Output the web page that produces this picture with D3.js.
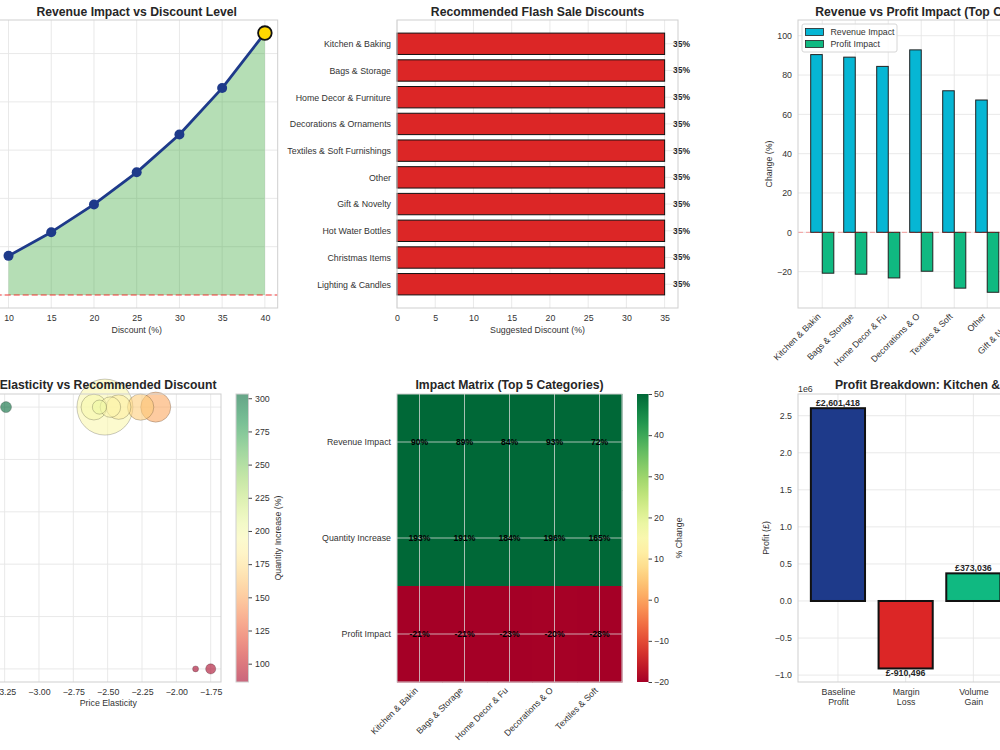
<!DOCTYPE html>
<html>
<head>
<meta charset="utf-8">
<script src="https://cdn.jsdelivr.net/npm/d3@7"></script>
<style>
  body { margin: 0; background: #fff; }
  svg text { font-family: "Liberation Sans", Arial, sans-serif; }
</style>
</head>
<body>
<div id="chart"></div>
<script>
// ---- data ----

// revenue impact curve
const discountLevels = [10, 15, 20, 25, 30, 35, 40];
const avgRevenueImpact = [16.2, 26.0, 37.5, 50.8, 66.5, 85.7, 108.5];

// categories and suggested discounts
const categories = ["Kitchen & Baking", "Bags & Storage", "Home Decor & Furniture",
  "Decorations & Ornaments", "Textiles & Soft Furnishings", "Other", "Gift & Novelty",
  "Hot Water Bottles", "Christmas Items", "Lighting & Candles"];
const suggestedDiscount = [35, 35, 35, 35, 35, 35, 35, 35, 35, 35];

// top 8 categories: revenue vs profit impact (%)
const revenueImpact = [90.4, 89.1, 84.4, 92.8, 72.0, 67.3, 60.5, 55.2];
const profitImpact = [-20.8, -21.3, -23.2, -19.8, -28.4, -30.5, -27.0, -24.5];

// impact matrix (top 5)
const matrixRows = ["Revenue Impact", "Quantity Increase", "Profit Impact"];
const quantityIncrease = [193, 191, 184, 196, 165];

// elasticity scatter (same order as categories)
const elasticity = [-2.52, -2.48, -2.42, -2.60, -2.26, -2.15, -2.56, -1.75, -1.86, -3.24];
const recDiscount = [35, 35, 35, 35, 35, 35, 35, 10, 10, 35];
const scatterQty = [193, 191, 184, 196, 165, 150, 205, 88, 86, 303];
const baselineRevenue = [5200, 700, 1000, 1100, 1150, 1500, 330, 170, 60, 200];

// profit breakdown for the top category
const breakdownLabels = ["Baseline\nProfit", "Margin\nLoss", "Volume\nGain", "Net\nProfit"];
const breakdownValues = [2601418, -910496, 373036, 2063958];

// ---- setup ----

const width = 1000;
const height = 750;
const gridColor = "#e6e6e6";
const frameColor = "#cfcfcf";
const textColor = "#333333";

const svg = d3.select("#chart")
  .append("svg")
  .attr("width", width)
  .attr("height", height)
  .style("background", "#ffffff");

const shortName = s => s.slice(0, 15);

function addTitle(b, txt, y, cx) {
  svg.append("text")
    .attr("x", cx !== undefined ? cx : (b.x0 + b.x1) / 2)
    .attr("y", y)
    .attr("text-anchor", "middle")
    .style("font-size", "12.2px")
    .style("font-weight", "bold")
    .style("fill", "#262626")
    .text(txt);
}

function addGrid(b, xs, xVals, ys, yVals) {
  const g = svg.append("g");
  g.selectAll("line.gx").data(xVals).join("line")
    .attr("x1", d => xs(d)).attr("x2", d => xs(d))
    .attr("y1", b.y0).attr("y2", b.y1)
    .attr("stroke", gridColor).attr("stroke-width", 0.9);
  g.selectAll("line.gy").data(yVals).join("line")
    .attr("y1", d => ys(d)).attr("y2", d => ys(d))
    .attr("x1", b.x0).attr("x2", b.x1)
    .attr("stroke", gridColor).attr("stroke-width", 0.9);
}

function addFrame(b) {
  svg.append("rect")
    .attr("x", b.x0).attr("y", b.y0)
    .attr("width", b.x1 - b.x0).attr("height", b.y1 - b.y0)
    .attr("fill", "none")
    .attr("stroke", frameColor)
    .attr("stroke-width", 1);
}

function styleAxis(g) {
  g.select(".domain").remove();
  g.attr("font-family", '"Liberation Sans", Arial, sans-serif')
    .attr("font-size", 8.8);
  g.selectAll(".tick text").attr("fill", textColor);
  return g;
}

function bottomAxis(b, scale, vals, fmt) {
  return svg.append("g")
    .attr("transform", "translate(0," + b.y1 + ")")
    .call(d3.axisBottom(scale).tickValues(vals).tickFormat(fmt).tickSize(0).tickPadding(7))
    .call(styleAxis);
}

function leftAxis(b, scale, vals, fmt) {
  return svg.append("g")
    .attr("transform", "translate(" + b.x0 + ",0)")
    .call(d3.axisLeft(scale).tickValues(vals).tickFormat(fmt).tickSize(0).tickPadding(6))
    .call(styleAxis);
}

function rotateLabels(g) {
  g.selectAll(".tick text")
    .attr("y", 0).attr("dy", 0)
    .attr("text-anchor", "end")
    .attr("transform", "translate(-1.5,9) rotate(-45)");
}

function axisLabel(x, y, txt, rotate) {
  svg.append("text")
    .attr("transform", "translate(" + x + "," + y + ")" + (rotate ? " rotate(-90)" : ""))
    .attr("text-anchor", "middle")
    .style("font-size", "8.8px")
    .style("fill", textColor)
    .text(txt);
}

// ---- panel 1: revenue impact vs discount level ----
(function () {
  const b = { x0: -4.3, x1: 277.7, y0: 20, y1: 308 };
  const data = discountLevels.map((d, i) => ({ x: d, y: avgRevenueImpact[i] }));

  const xScale = d3.scaleLinear().domain([8.5, 41.5]).range([b.x0, b.x1]);
  const yScale = d3.scaleLinear().domain([-5.4, 113.9]).range([b.y1, b.y0]);

  addGrid(b, xScale, discountLevels, yScale, [0, 20, 40, 60, 80, 100]);

  svg.append("path")
    .attr("d", d3.area().x(d => xScale(d.x)).y0(yScale(0)).y1(d => yScale(d.y))(data))
    .attr("fill", "#2ca02c")
    .attr("fill-opacity", 0.35);

  svg.append("line")
    .attr("x1", b.x0).attr("x2", b.x1)
    .attr("y1", yScale(0)).attr("y2", yScale(0))
    .attr("stroke", "#ff0000").attr("stroke-opacity", 0.5)
    .attr("stroke-width", 1.5).attr("stroke-dasharray", "6,3");

  svg.append("path")
    .attr("d", d3.line().x(d => xScale(d.x)).y(d => yScale(d.y))(data))
    .attr("fill", "none")
    .attr("stroke", "#1e3a8a")
    .attr("stroke-width", 2.8)
    .attr("stroke-linejoin", "round");

  svg.selectAll("circle.p1").data(data.slice(0, -1)).join("circle")
    .attr("class", "p1")
    .attr("cx", d => xScale(d.x)).attr("cy", d => yScale(d.y))
    .attr("r", 5).attr("fill", "#1e3a8a");

  const last = data[data.length - 1];
  svg.append("circle")
    .attr("cx", xScale(last.x)).attr("cy", yScale(last.y))
    .attr("r", 6.8).attr("fill", "#ffd700")
    .attr("stroke", "#111").attr("stroke-width", 1.8);

  addFrame(b);
  bottomAxis(b, xScale, discountLevels, d3.format("d"));
  axisLabel((b.x0 + b.x1) / 2, 333, "Discount (%)");
  addTitle(b, "Revenue Impact vs Discount Level", 15.5);
})();

// ---- panel 2: recommended flash sale discounts ----
(function () {
  const b = { x0: 397, x1: 678, y0: 20, y1: 308 };
  const idx = categories.map((d, i) => i);

  const xScale = d3.scaleLinear().domain([0, 36.75]).range([b.x0, b.x1]);
  const yScale = d3.scaleLinear().domain([-0.89, 9.89]).range([b.y0, b.y1]);
  const xTicks = [0, 5, 10, 15, 20, 25, 30, 35];

  addGrid(b, xScale, xTicks, yScale, idx);

  svg.selectAll("rect.p2").data(idx).join("rect")
    .attr("class", "p2")
    .attr("x", xScale(0))
    .attr("y", i => yScale(i - 0.4))
    .attr("width", i => xScale(suggestedDiscount[i]) - xScale(0))
    .attr("height", yScale(0.8) - yScale(0))
    .attr("fill", "#dc2626")
    .attr("stroke", "#111")
    .attr("stroke-width", 1);

  svg.selectAll("text.p2v").data(idx).join("text")
    .attr("class", "p2v")
    .attr("x", i => xScale(suggestedDiscount[i] + 1.1))
    .attr("y", i => yScale(i))
    .attr("dy", "0.35em")
    .style("font-size", "8.5px")
    .style("font-weight", "bold")
    .style("fill", "#262626")
    .text(i => suggestedDiscount[i] + "%");

  addFrame(b);
  bottomAxis(b, xScale, xTicks, d3.format("d"));
  leftAxis(b, yScale, idx, i => categories[i]);
  axisLabel((b.x0 + b.x1) / 2, 333, "Suggested Discount (%)");
  addTitle(b, "Recommended Flash Sale Discounts", 15.5);
})();

// ---- panel 3: revenue vs profit impact ----
(function () {
  const b = { x0: 798, x1: 1077.5, y0: 20, y1: 308 };
  const n = revenueImpact.length;
  const idx = d3.range(n);
  const w = 0.35;

  const xScale = d3.scaleLinear().domain([-0.735, n - 1 + 0.735]).range([b.x0, b.x1]);
  const yScale = d3.scaleLinear().domain([-38.5, 108]).range([b.y1, b.y0]);
  const yTicks = [-20, 0, 20, 40, 60, 80, 100];

  addGrid(b, xScale, idx, yScale, yTicks);

  svg.selectAll("rect.rev").data(idx).join("rect")
    .attr("class", "rev")
    .attr("x", i => xScale(i - w))
    .attr("width", xScale(w) - xScale(0))
    .attr("y", i => yScale(revenueImpact[i]))
    .attr("height", i => yScale(0) - yScale(revenueImpact[i]))
    .attr("fill", "#06b6d4").attr("stroke", "#222").attr("stroke-width", 1);

  svg.selectAll("rect.prof").data(idx).join("rect")
    .attr("class", "prof")
    .attr("x", i => xScale(i))
    .attr("width", xScale(w) - xScale(0))
    .attr("y", yScale(0))
    .attr("height", i => yScale(profitImpact[i]) - yScale(0))
    .attr("fill", "#10b981").attr("stroke", "#222").attr("stroke-width", 1);

  svg.append("line")
    .attr("x1", b.x0).attr("x2", b.x1)
    .attr("y1", yScale(0)).attr("y2", yScale(0))
    .attr("stroke", "#ff0000").attr("stroke-opacity", 0.35)
    .attr("stroke-width", 1).attr("stroke-dasharray", "5,3");

  // legend
  const lg = svg.append("g").attr("transform", "translate(802,24)");
  lg.append("rect").attr("width", 95).attr("height", 28).attr("rx", 2)
    .attr("fill", "#fff").attr("fill-opacity", 0.85)
    .attr("stroke", "#d6d6d6");
  [["Revenue Impact", "#06b6d4"], ["Profit Impact", "#10b981"]].forEach((e, k) => {
    lg.append("rect").attr("x", 3.5).attr("y", 4.5 + k * 12).attr("width", 18).attr("height", 7)
      .attr("fill", e[1]).attr("stroke", "#222").attr("stroke-width", 0.8);
    lg.append("text").attr("x", 28.5).attr("y", 8 + k * 12).attr("dy", "0.35em")
      .style("font-size", "8.8px").style("fill", textColor).text(e[0]);
  });

  addFrame(b);
  bottomAxis(b, xScale, idx, i => shortName(categories[i])).call(rotateLabels);
  leftAxis(b, yScale, yTicks, d3.format("d"));
  axisLabel(772, (b.y0 + b.y1) / 2, "Change (%)", true);
  addTitle(b, "Revenue vs Profit Impact (Top Categories)", 15.5);
})();

// ---- panel 4: price elasticity vs recommended discount ----
(function () {
  const b = { x0: -4.3, x1: 221, y0: 394, y1: 682 };
  const cb = { x0: 236, x1: 248.5, y0: 394, y1: 682 };

  const xScale = d3.scaleLinear().domain([-3.315, -1.675]).range([b.x0, b.x1]);
  const yScale = d3.scaleLinear().domain([8.75, 36.25]).range([b.y1, b.y0]);
  const rScale = d3.scaleSqrt().domain([0, d3.max(baselineRevenue)]).range([0, 28]);
  const color = d3.scaleSequential(d3.interpolateRdYlGn).domain([86.2, 303.2]);

  const xTicks = [-3.25, -3.0, -2.75, -2.5, -2.25, -2.0, -1.75];
  const yTicks = [10, 15, 20, 25, 30, 35];
  addGrid(b, xScale, xTicks, yScale, yTicks);

  const pts = categories.map((c, i) => ({
    e: elasticity[i], d: recDiscount[i], q: scatterQty[i], r: rScale(baselineRevenue[i])
  })).sort((a, b) => b.r - a.r);

  svg.selectAll("circle.p4").data(pts).join("circle")
    .attr("class", "p4")
    .attr("cx", d => xScale(d.e)).attr("cy", d => yScale(d.d))
    .attr("r", d => d.r)
    .attr("fill", d => color(d.q)).attr("fill-opacity", 0.6)
    .attr("stroke", "#000").attr("stroke-opacity", 0.35).attr("stroke-width", 0.6);

  addFrame(b);
  bottomAxis(b, xScale, xTicks, d3.format(".2f"));
  axisLabel((b.x0 + b.x1) / 2, 706, "Price Elasticity");
  // title sits a little left of the axes centre in the reference
  addTitle(b, "Price Elasticity vs Recommended Discount", 389, 91.5);

  // colorbar
  const cScale = d3.scaleLinear().domain(color.domain()).range([cb.y1, cb.y0]);
  const grad = svg.append("defs").append("linearGradient")
    .attr("id", "gradQty").attr("x1", 0).attr("y1", 1).attr("x2", 0).attr("y2", 0);
  d3.range(0, 1.001, 0.05).forEach(t => {
    grad.append("stop").attr("offset", t).attr("stop-color", d3.interpolateRdYlGn(t));
  });
  svg.append("rect")
    .attr("x", cb.x0).attr("y", cb.y0)
    .attr("width", cb.x1 - cb.x0).attr("height", cb.y1 - cb.y0)
    .attr("fill", "url(#gradQty)").attr("fill-opacity", 0.6);
  addFrame(cb);
  svg.append("g")
    .attr("transform", "translate(" + cb.x1 + ",0)")
    .call(d3.axisRight(cScale).tickValues(d3.range(100, 301, 25)).tickSize(3.5).tickPadding(3))
    .call(styleAxis)
    .call(g => g.selectAll(".tick line").attr("stroke", "#444"));
  axisLabel(281, (cb.y0 + cb.y1) / 2, "Quantity Increase (%)", true);
})();

// ---- panel 5: impact matrix ----
(function () {
  const b = { x0: 397, x1: 622, y0: 394, y1: 682 };
  const cb = { x0: 637, x1: 648.5, y0: 394, y1: 682 };
  const cols = d3.range(quantityIncrease.length);
  const matrix = [
    cols.map(i => revenueImpact[i]),
    quantityIncrease,
    cols.map(i => profitImpact[i])
  ];
  const cells = [];
  matrix.forEach((row, r) => row.forEach((v, c) => cells.push({ r: r, c: c, v: v })));

  const xScale = d3.scaleLinear().domain([-0.5, cols.length - 0.5]).range([b.x0, b.x1]);
  const yScale = d3.scaleLinear().domain([-0.5, matrixRows.length - 0.5]).range([b.y0, b.y1]);
  const color = d3.scaleSequential(d3.interpolateRdYlGn).domain([-20, 50]).clamp(true);

  svg.selectAll("rect.cell").data(cells).join("rect")
    .attr("class", "cell")
    .attr("x", d => xScale(d.c - 0.5)).attr("y", d => yScale(d.r - 0.5))
    .attr("width", xScale(1) - xScale(0) + 0.5)
    .attr("height", yScale(1) - yScale(0) + 0.5)
    .attr("fill", d => color(d.v));

  const g = svg.append("g");
  g.selectAll("line.vx").data(cols).join("line")
    .attr("x1", d => xScale(d)).attr("x2", d => xScale(d))
    .attr("y1", b.y0).attr("y2", b.y1)
    .attr("stroke", "#dddddd").attr("stroke-opacity", 0.75).attr("stroke-width", 1);
  g.selectAll("line.hy").data(d3.range(matrixRows.length)).join("line")
    .attr("y1", d => yScale(d)).attr("y2", d => yScale(d))
    .attr("x1", b.x0).attr("x2", b.x1)
    .attr("stroke", "#dddddd").attr("stroke-opacity", 0.75).attr("stroke-width", 1);

  svg.selectAll("text.cellv").data(cells).join("text")
    .attr("class", "cellv")
    .attr("x", d => xScale(d.c)).attr("y", d => yScale(d.r))
    .attr("dy", "0.35em").attr("text-anchor", "middle")
    .style("font-size", "8.6px").style("font-weight", "bold").style("fill", "#000")
    .text(d => d.v.toFixed(0) + "%");

  addFrame(b);
  bottomAxis(b, xScale, cols, i => shortName(categories[i])).call(rotateLabels);
  leftAxis(b, yScale, d3.range(matrixRows.length), i => matrixRows[i]);
  addTitle(b, "Impact Matrix (Top 5 Categories)", 389);

  // colorbar
  const cScale = d3.scaleLinear().domain([-20, 50]).range([cb.y1, cb.y0]);
  const grad = svg.append("defs").append("linearGradient")
    .attr("id", "gradChg").attr("x1", 0).attr("y1", 1).attr("x2", 0).attr("y2", 0);
  d3.range(0, 1.001, 0.05).forEach(t => {
    grad.append("stop").attr("offset", t).attr("stop-color", d3.interpolateRdYlGn(t));
  });
  svg.append("rect")
    .attr("x", cb.x0).attr("y", cb.y0)
    .attr("width", cb.x1 - cb.x0).attr("height", cb.y1 - cb.y0)
    .attr("fill", "url(#gradChg)");
  svg.append("g")
    .attr("transform", "translate(" + cb.x1 + ",0)")
    .call(d3.axisRight(cScale).tickValues(d3.range(-20, 51, 10)).tickSize(3.5).tickPadding(2))
    .call(styleAxis)
    .call(g => g.selectAll(".tick line").attr("stroke", "#444"));
  axisLabel(681.5, (cb.y0 + cb.y1) / 2, "% Change", true);
})();

// ---- panel 6: profit breakdown ----
(function () {
  const b = { x0: 798, x1: 1081, y0: 394, y1: 682 };
  const idx = d3.range(breakdownValues.length);
  const barColors = ["#1e3a8a", "#dc2626", "#10b981", "#3b82f6"];

  const xScale = d3.scaleLinear().domain([-0.59, idx.length - 1 + 0.59]).range([b.x0, b.x1]);
  const yScale = d3.scaleLinear().domain([-1.093e6, 2.793e6]).range([b.y1, b.y0]);
  const yTicks = d3.range(-1e6, 2.51e6, 0.5e6);

  addGrid(b, xScale, idx, yScale, yTicks);

  svg.selectAll("rect.p6").data(idx).join("rect")
    .attr("class", "p6")
    .attr("x", i => xScale(i - 0.4))
    .attr("width", xScale(0.8) - xScale(0))
    .attr("y", i => yScale(Math.max(0, breakdownValues[i])))
    .attr("height", i => Math.abs(yScale(breakdownValues[i]) - yScale(0)))
    .attr("fill", (i) => barColors[i])
    .attr("stroke", "#111").attr("stroke-width", 2);

  svg.selectAll("text.p6v").data(idx).join("text")
    .attr("class", "p6v")
    .attr("x", i => xScale(i))
    .attr("y", i => breakdownValues[i] >= 0 ? yScale(breakdownValues[i]) - 2 : yScale(breakdownValues[i]) + 7.5)
    .attr("text-anchor", "middle")
    .style("font-size", "8.8px").style("font-weight", "bold").style("fill", "#262626")
    .text(i => "£" + (breakdownValues[i] < 0 ? "-" : "") + d3.format(",")(Math.abs(breakdownValues[i])));

  addFrame(b);
  const xg = bottomAxis(b, xScale, idx, i => breakdownLabels[i]);
  xg.selectAll(".tick text").each(function (i) {
    const t = d3.select(this);
    const lines = breakdownLabels[i].split("\n");
    t.text(null);
    lines.forEach((s, k) => {
      t.append("tspan").attr("x", 0).attr("dy", k === 0 ? "0.71em" : "1.15em").text(s);
    });
  });
  leftAxis(b, yScale, yTicks, v => d3.format(".1f")(v / 1e6));
  svg.append("text").attr("x", b.x0).attr("y", 392)
    .style("font-size", "8.8px").style("fill", textColor).text("1e6");
  axisLabel(769, (b.y0 + b.y1) / 2, "Profit (£)", true);
  addTitle(b, "Profit Breakdown: Kitchen & Baking", 389);
})();
</script>
</body>
</html>
